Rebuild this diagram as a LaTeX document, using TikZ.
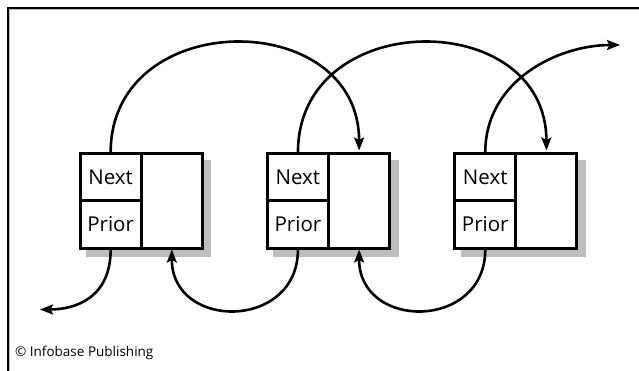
\documentclass[tikz,border=0pt]{standalone}
\usepackage{fontspec}
\setmainfont{Open Sans}
\usetikzlibrary{arrows.meta}
\definecolor{shadowgray}{RGB}{190,190,190}
\begin{document}
\begin{tikzpicture}[x=1pt,y=-1pt,
  cellbox/.style={draw, line width=3pt, inner sep=0pt, fill=white,
    font=\fontsize{20.5}{22}\selectfont, text height=14.6pt, text depth=0pt},
  smallcell/.style={cellbox, minimum width=61.3pt, minimum height=47pt},
  datacell/.style={cellbox, minimum width=61pt, minimum height=94pt},
  linkarrow/.style={line width=2.6pt, -{Stealth[length=13pt,width=10pt,inset=2.5pt]}}
]
\useasboundingbox (0,0) rectangle (639,371);
\fill[white] (0,0) rectangle (639,371);
% frame
\draw[shadowgray, line width=1.3pt] (9.8,371) -- (9.8,9.8) -- (639,9.8);
\draw[black, line width=1.7pt] (8.2,371) -- (8.2,8.2) -- (639,8.2);

% shadows
\foreach \L in {80, 267.3, 454.6}{
  \fill[shadowgray] (\L-1.5+7.5,154-1.5+7.5) rectangle (\L+122.3+1.5+7.5,248+1.5+7.5);
}
\node[smallcell] (n1) at (110.65,177.5) {Next};
\node[smallcell] (p1) at (110.65,224.5) {Prior};
\node[datacell]  (d1) at (171.8,201) {};
\node[smallcell] (n2) at (297.95,177.5) {Next};
\node[smallcell] (p2) at (297.95,224.5) {Prior};
\node[datacell]  (d2) at (359.1,201) {};
\node[smallcell] (n3) at (485.25,177.5) {Next};
\node[smallcell] (p3) at (485.25,224.5) {Prior};
\node[datacell]  (d3) at (546.4,201) {};

\coordinate (endleft) at (40,309.5);
\coordinate (endright) at (620,45);

% next links
\draw[linkarrow, shorten >=2pt] (n1.north) .. controls +(0,-146) and +(0,-146) .. (d2.north);
\draw[linkarrow, shorten >=2pt] (n2.north) .. controls +(0,-146) and +(0,-146) .. (d3.north);
\draw[linkarrow] (n3.north) .. controls +(0,-72) and +(-62,0) .. (endright);

% prior links
\draw[linkarrow] (p1.south) .. controls +(0,48) and +(36,0) .. (endleft);
\draw[linkarrow] (p2.south) .. controls +(0,81) and +(0,81) .. (d1.south);
\draw[linkarrow] (p3.south) .. controls +(0,81) and +(0,81) .. (d2.south);

\node[anchor=base west, inner sep=0pt, font=\fontsize{13.5}{16}\selectfont] (copy) at (15,356.7) {© Infobase Publishing};
\end{tikzpicture}
\end{document}
